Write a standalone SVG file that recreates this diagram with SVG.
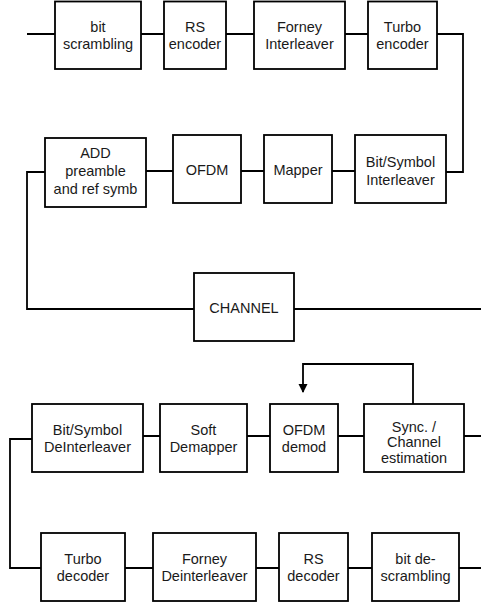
<svg xmlns="http://www.w3.org/2000/svg" width="481" height="605" viewBox="0 0 481 605">
<style>
.b{fill:#fff;stroke:#000;stroke-width:1.8}
.c{fill:none;stroke:#000;stroke-width:1.8}
text{font-family:"Liberation Sans",Arial,sans-serif;font-size:14.5px;fill:#1a1a1a;text-anchor:middle}
</style>
<defs>
<marker id="ah" markerWidth="9" markerHeight="10" refX="8" refY="4.5" orient="auto" markerUnits="userSpaceOnUse">
<path d="M0,0 L9,4.5 L0,9 Z" fill="#000"/>
</marker>
</defs>
<rect width="481" height="605" fill="#fff"/>
<g id="connectors">
<path class="c" d="M27,34 H55 M141,34 H164 M226,34 H254 M345,34 H368 M437,34 H463 V172 H446"/>
<path class="c" d="M146,171 H173 M241,171 H264 M332,171 H355"/>
<path class="c" d="M45,172 H27 V309 H194 M294,309 H481"/>
<path class="c" d="M143,436 H160 M247,436 H270 M338,436 H364 M464,436 H481"/>
<path class="c" d="M413,404 V364 H303 V392" marker-end="url(#ah)"/>
<path class="c" d="M32,439 H10 V568 H41"/>
<path class="c" d="M125,568 H153 M256,568 H279 M348,568 H372 M459,568 H481"/>
</g>
<g id="bit_scrambling"><rect class="b" x="55" y="1.5" width="86" height="67.5"/><text x="98" y="31.5">bit</text><text x="98" y="48.5">scrambling</text></g>
<g id="rs_encoder"><rect class="b" x="164" y="1.5" width="62" height="67.5"/><text x="195" y="31.5">RS</text><text x="195" y="48.5">encoder</text></g>
<g id="forney_interleaver"><rect class="b" x="254" y="1.5" width="91" height="67.5"/><text x="299.5" y="31.5">Forney</text><text x="299.5" y="48.5">Interleaver</text></g>
<g id="turbo_encoder"><rect class="b" x="368" y="1.5" width="69" height="67.5"/><text x="402.5" y="31.5">Turbo</text><text x="402.5" y="48.5">encoder</text></g>
<g id="add_preamble"><rect class="b" x="45" y="138" width="101" height="69"/><text x="95.5" y="157.5">ADD</text><text x="95.5" y="175.5">preamble</text><text x="95.5" y="193.5">and ref symb</text></g>
<g id="ofdm"><rect class="b" x="173" y="135" width="68" height="68"/><text x="207" y="175">OFDM</text></g>
<g id="mapper"><rect class="b" x="264" y="135" width="68" height="68"/><text x="298" y="175">Mapper</text></g>
<g id="bit_symbol_interleaver"><rect class="b" x="355" y="135" width="91" height="68"/><text x="400.5" y="166.5">Bit/Symbol</text><text x="400.5" y="184.5">Interleaver</text></g>
<g id="channel"><rect class="b" x="194" y="273" width="100" height="68"/><text x="244" y="312.5">CHANNEL</text></g>
<g id="bit_symbol_deinterleaver"><rect class="b" x="32" y="404" width="111" height="68"/><text x="87.5" y="434.5">Bit/Symbol</text><text x="87.5" y="451.5">DeInterleaver</text></g>
<g id="soft_demapper"><rect class="b" x="160" y="404" width="87" height="68"/><text x="203.5" y="434.5">Soft</text><text x="203.5" y="451.5">Demapper</text></g>
<g id="ofdm_demod"><rect class="b" x="270" y="404" width="68" height="68"/><text x="304" y="434.5">OFDM</text><text x="304" y="451.5">demod</text></g>
<g id="sync_channel_estimation"><rect class="b" x="364" y="404" width="100" height="68"/><text x="414" y="432">Sync. /</text><text x="414" y="447">Channel</text><text x="414" y="462.5">estimation</text></g>
<g id="turbo_decoder"><rect class="b" x="41" y="533" width="84" height="68"/><text x="83" y="563.5">Turbo</text><text x="83" y="581">decoder</text></g>
<g id="forney_deinterleaver"><rect class="b" x="153" y="533" width="103" height="68"/><text x="204.5" y="563.5">Forney</text><text x="204.5" y="581">Deinterleaver</text></g>
<g id="rs_decoder"><rect class="b" x="279" y="533" width="69" height="68"/><text x="313.5" y="563.5">RS</text><text x="313.5" y="581">decoder</text></g>
<g id="bit_descrambling"><rect class="b" x="372" y="533" width="87" height="68"/><text x="415.5" y="563.5">bit de-</text><text x="415.5" y="581">scrambling</text></g>
</svg>
